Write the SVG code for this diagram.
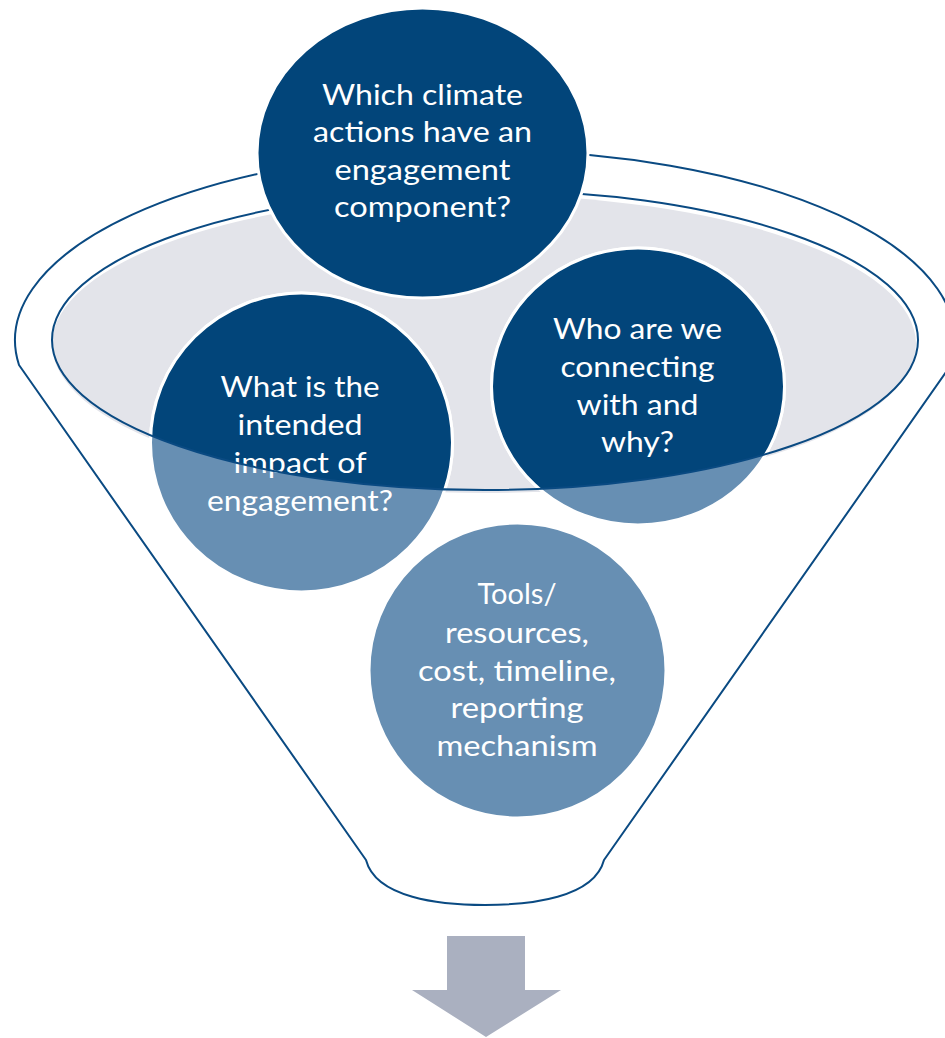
<svg xmlns="http://www.w3.org/2000/svg" width="945" height="1038" viewBox="0 0 945 1038">
<style>
.ln{fill:none;stroke:#0A4A82;stroke-width:2;stroke-linejoin:round}
.dk{fill:#02457A;stroke:#fff;stroke-width:3}
.lt{fill:#678FB3;stroke:#fff;stroke-width:3}
.t{font-family:Lato,"Open Sans","Liberation Sans",sans-serif;font-size:28px;fill:#fff;text-anchor:middle}
</style>
<defs>
<clipPath id="rim"><ellipse cx="485" cy="340" rx="433" ry="150"/></clipPath>
</defs>
<rect width="945" height="1038" fill="#fff"/>
<g id="funnel-fill">
<ellipse cx="484" cy="344" rx="432" ry="149" fill="#E3E4EA"/>
</g>
<g id="node-impact">
<ellipse class="lt" cx="301.5" cy="442.5" rx="151" ry="149.5"/>
<ellipse class="dk" cx="301.5" cy="442.5" rx="151" ry="149.5" clip-path="url(#rim)"/>
<text class="t"><tspan x="300" y="396.5" textLength="159" lengthAdjust="spacingAndGlyphs">What is the</tspan><tspan x="300" y="434.5" textLength="125" lengthAdjust="spacingAndGlyphs">intended</tspan><tspan x="300" y="472.5" textLength="133" lengthAdjust="spacingAndGlyphs">impact of</tspan><tspan x="300" y="510.5" textLength="186" lengthAdjust="spacingAndGlyphs">engagement?</tspan></text>
</g>
<g id="node-who">
<ellipse class="lt" cx="638" cy="386.5" rx="146.5" ry="138.5"/>
<ellipse class="dk" cx="638" cy="386.5" rx="146.5" ry="138.5" clip-path="url(#rim)"/>
<text class="t"><tspan x="637.5" y="339" textLength="169" lengthAdjust="spacingAndGlyphs">Who are we</tspan><tspan x="637.5" y="377" textLength="154" lengthAdjust="spacingAndGlyphs">connecting</tspan><tspan x="637.5" y="415" textLength="122" lengthAdjust="spacingAndGlyphs">with and</tspan><tspan x="637.5" y="452" textLength="73" lengthAdjust="spacingAndGlyphs">why?</tspan></text>
</g>
<g id="node-tools">
<ellipse class="lt" cx="517.5" cy="670.5" rx="148.5" ry="147.5"/>
<text class="t"><tspan x="517" y="604" textLength="79" lengthAdjust="spacingAndGlyphs">Tools/</tspan><tspan x="517" y="643" textLength="144" lengthAdjust="spacingAndGlyphs">resources,</tspan><tspan x="517" y="681" textLength="198" lengthAdjust="spacingAndGlyphs">cost, timeline,</tspan><tspan x="517" y="718" textLength="133" lengthAdjust="spacingAndGlyphs">reporting</tspan><tspan x="517" y="756" textLength="161" lengthAdjust="spacingAndGlyphs">mechanism</tspan></text>
</g>
<g id="funnel-lines">
<ellipse class="ln" cx="485" cy="340" rx="433" ry="150"/>
<path class="ln" d="M 19 365 L 366 860 C 376 898 440 905 485 905 C 530 905 594 898 604 860 L 951 365 A 470 190 0 1 0 19 365 Z"/>
</g>
<g id="node-which">
<ellipse class="dk" cx="422.5" cy="153" rx="165.5" ry="145"/>
<text class="t"><tspan x="422.5" y="104.5" textLength="201" lengthAdjust="spacingAndGlyphs">Which climate</tspan><tspan x="422.5" y="142" textLength="219" lengthAdjust="spacingAndGlyphs">actions have an</tspan><tspan x="422.5" y="179.5" textLength="176" lengthAdjust="spacingAndGlyphs">engagement</tspan><tspan x="422.5" y="217" textLength="177" lengthAdjust="spacingAndGlyphs">component?</tspan></text>
</g>
<g id="connectors">
<polygon points="447,936 525,936 525,990 561,990 486,1037 412,990 447,990" fill="#AAB0C0"/>
</g>
</svg>
